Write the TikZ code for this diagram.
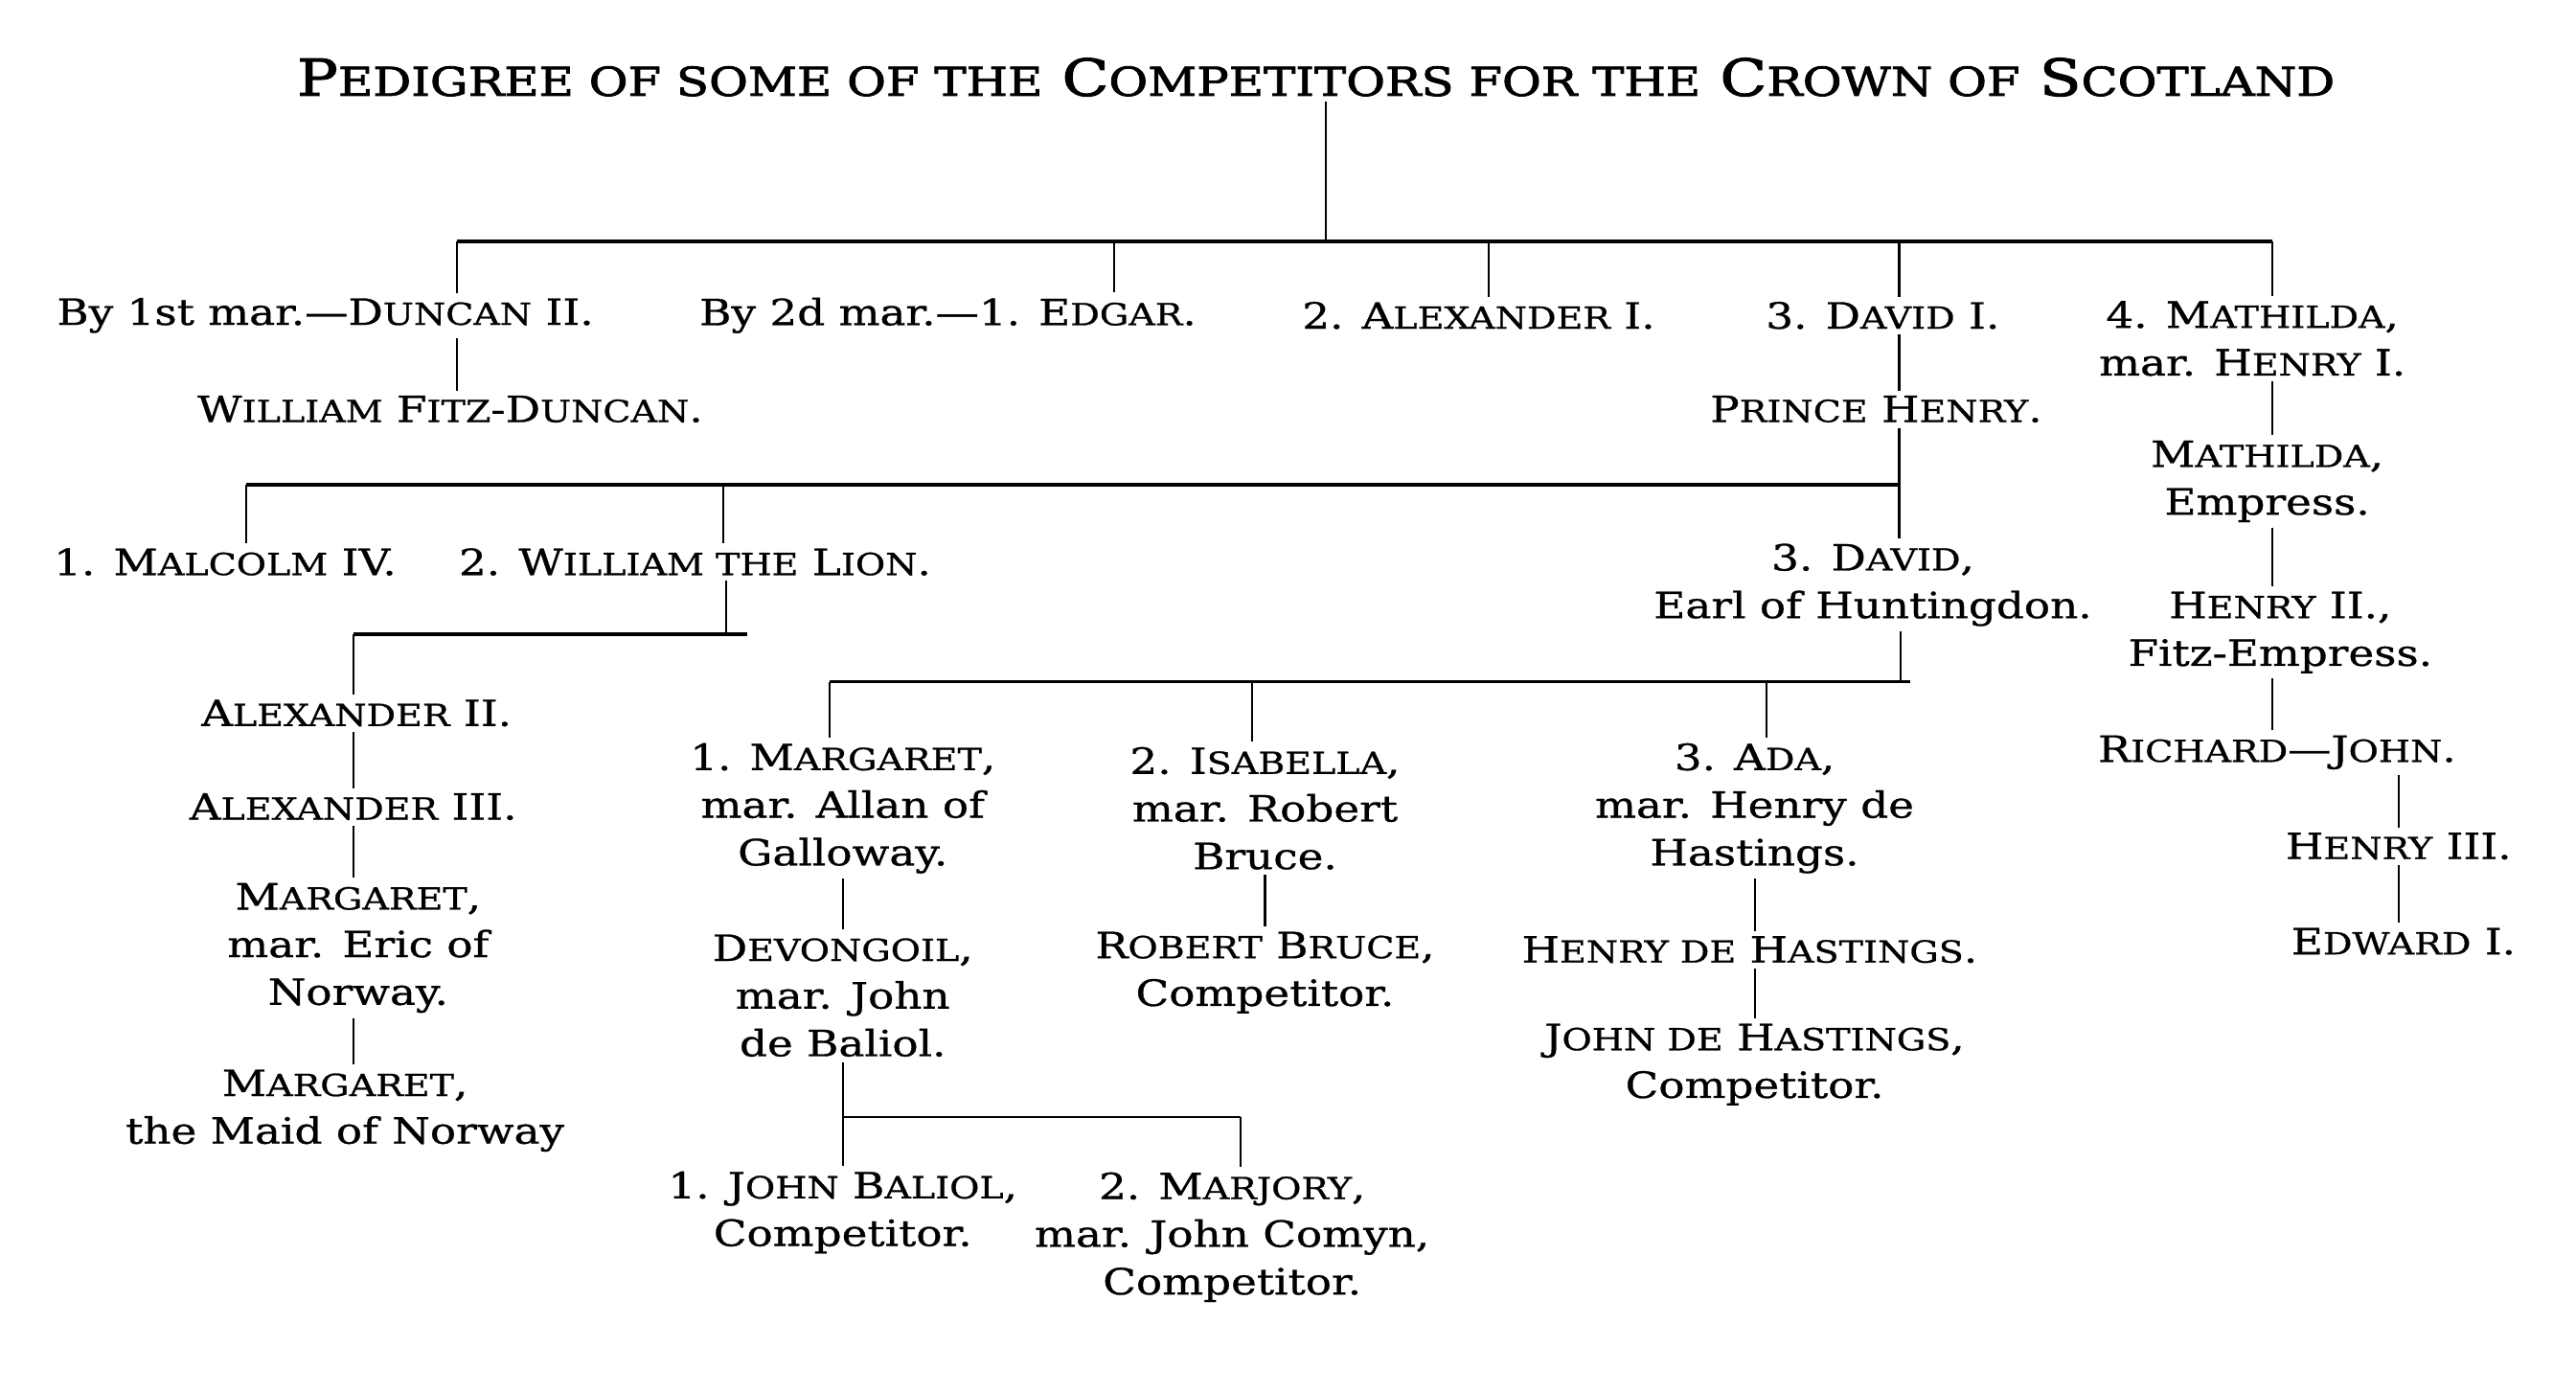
\documentclass[tikz,border=0pt]{standalone}
\usepackage{fontspec}
\setmainfont{DejaVu Serif}[FakeStretch=1.2, FakeBold=0.8]
\newfontfamily\titlefont{DejaVu Serif}[FakeStretch=1.2, FakeBold=2]
\newcommand\smc[1]{{\fontsize{18.5}{29}\selectfont\MakeUppercase{#1}}}
\newcommand\tsc[1]{{\fontsize{24.2}{34}\selectfont\MakeUppercase{#1}}}
\begin{document}
\begin{tikzpicture}[x=1pt,y=-1pt,
  every node/.style={inner sep=3pt, align=center, font=\fontsize{22}{29}\selectfont},
  line/.style={line width=1.2pt},
  bar/.style={line width=1.9pt}]
\useasboundingbox[fill=white] (0,0) rectangle (1568,847);

% ---------- nodes ----------
\node (title) at (801,47) {\titlefont\fontsize{31}{34}\selectfont P\tsc{edigree of some of the} C\tsc{ompetitors for the} C\tsc{rown of} S\tsc{cotland}};

\node (duncan) at (198,192) {By 1st mar.—D\smc{uncan} II.};
\node (edgar)  at (577,192) {By 2d mar.—1. E\smc{dgar}.};
\node (alexI)  at (900,192) {2. A\smc{lexander} I.};
\node (davidI) at (1146,192) {3. D\smc{avid} I.};
\node (math)   at (1371,206) {4. M\smc{athilda},\\mar. H\smc{enry} I.};

\node (wfd)    at (274,249) {W\smc{illiam} F\smc{itz}-D\smc{uncan}.};
\node (prince) at (1142,249) {P\smc{rince} H\smc{enry}.};

\node (emp)    at (1380,293) {M\smc{athilda},\\Empress.};
\node (henII)  at (1388,385) {H\smc{enry} II.,\\Fitz-Empress.};
\node (rj)     at (1386,458) {R\smc{ichard}—J\smc{ohn}.};
\node (henIII) at (1460,515) {H\smc{enry} III.};
\node (edI)    at (1463,573) {E\smc{dward} I.};

\node (mal)    at (137,342) {1. M\smc{alcolm} IV.};
\node (wil)    at (423,342) {2. W\smc{illiam the} L\smc{ion}.};
\node (dav)    at (1140,356) {3. D\smc{avid},\\Earl of Huntingdon.};

\node (alexII)  at (217,434) {A\smc{lexander} II.};
\node (alexIII) at (215,491) {A\smc{lexander} III.};
\node (marg)    at (218,577) {M\smc{argaret},\\mar. Eric of\\Norway.};
\node (maid)    at (210,676) {M\smc{argaret},\\the Maid of Norway};

\node (margt) at (513,492) {1. M\smc{argaret},\\mar. Allan of\\Galloway.};
\node (isa)   at (770,492) {2. I\smc{sabella},\\mar. Robert\\Bruce.};
\node (ada)   at (1068,492) {3. A\smc{da},\\mar. Henry de\\Hastings.};

\node (dev) at (513,606) {D\smc{evongoil},\\mar. John\\de Baliol.};
\node (rb)  at (770,592) {R\smc{obert} B\smc{ruce},\\Competitor.};
\node (hh)  at (1065,578) {H\smc{enry de} H\smc{astings}.};
\node (jh)  at (1068,648) {J\smc{ohn de} H\smc{astings},\\Competitor.};

\node (jb) at (513,738) {1. J\smc{ohn} B\smc{aliol},\\Competitor.};
\node (mj) at (750,753) {2. M\smc{arjory},\\mar. John Comyn,\\Competitor.};

% ---------- bar coordinates ----------
\coordinate (tc)  at (807,147);
\coordinate (tbA) at (278,147);
\coordinate (tbB) at (678,147);
\coordinate (tbC) at (906,147);
\coordinate (tbD) at (1156,147);
\coordinate (tbE) at (1383,147);

\coordinate (b2A) at (150,295);
\coordinate (b2B) at (440,295);
\coordinate (b2C) at (1156,295);

\coordinate (b3L) at (215,386);
\coordinate (b3V) at (442,386);
\coordinate (b3R) at (455,386);

\coordinate (b4A) at (505,415);
\coordinate (b4B) at (762,415);
\coordinate (b4C) at (1075,415);
\coordinate (b4V) at (1157,415);
\coordinate (b4R) at (1163,415);

\coordinate (b5A) at (513,680);
\coordinate (b5B) at (755,680);

% ---------- connectors ----------
\draw[line] (title.south -| tc) -- (tc);
\draw[bar] (tbA) -- (tbE);
\foreach \c/\n in {tbA/duncan,tbB/edgar,tbC/alexI,tbD/davidI,tbE/math}
  \draw[line] (\c) -- (\c |- \n.north);

\draw[line] (duncan.south -| tbA) -- (wfd.north -| tbA);
\draw[line] (davidI.south -| tbD) -- (prince.north -| tbD);
\draw[line] (prince.south -| b2C) -- (b2C);

\draw[bar] (b2A) -- (b2C);
\foreach \c/\n in {b2A/mal,b2B/wil,b2C/dav}
  \draw[line] (\c) -- (\c |- \n.north);

\draw[line] (math.south -| tbE) -- (emp.north -| tbE);
\draw[line] (emp.south -| tbE) -- (henII.north -| tbE);
\draw[line] (henII.south -| tbE) -- (rj.north -| tbE);
\draw[line] (rj.south -| henIII) -- (henIII.north);
\draw[line] (henIII.south) -- (edI.north -| henIII);

\draw[line] (wil.south -| b3V) -- (b3V);
\draw[bar] (b3L) -- (b3R);
\draw[line] (b3L) -- (b3L |- alexII.north);
\draw[line] (alexII.south -| b3L) -- (alexIII.north -| b3L);
\draw[line] (alexIII.south -| b3L) -- (marg.north -| b3L);
\draw[line] (marg.south -| b3L) -- (maid.north -| b3L);

\draw[line] (dav.south -| b4V) -- (b4V);
\draw[bar] (b4A) -- (b4R);
\foreach \c/\n in {b4A/margt,b4B/isa,b4C/ada}
  \draw[line] (\c) -- (\c |- \n.north);

\draw[line] (margt.south -| b5A) -- (dev.north -| b5A);
\draw[line] (isa.south) -- (rb.north -| isa);
\draw[line] (ada.south) -- (hh.north -| ada);
\draw[line] (hh.south -| ada) -- (jh.north -| ada);

\draw[line] (dev.south -| b5A) -- (b5A);
\draw[line] (b5A) -- (b5B);
\draw[line] (b5A) -- (b5A |- jb.north);
\draw[line] (b5B) -- (b5B |- mj.north);
\end{tikzpicture}
\end{document}
